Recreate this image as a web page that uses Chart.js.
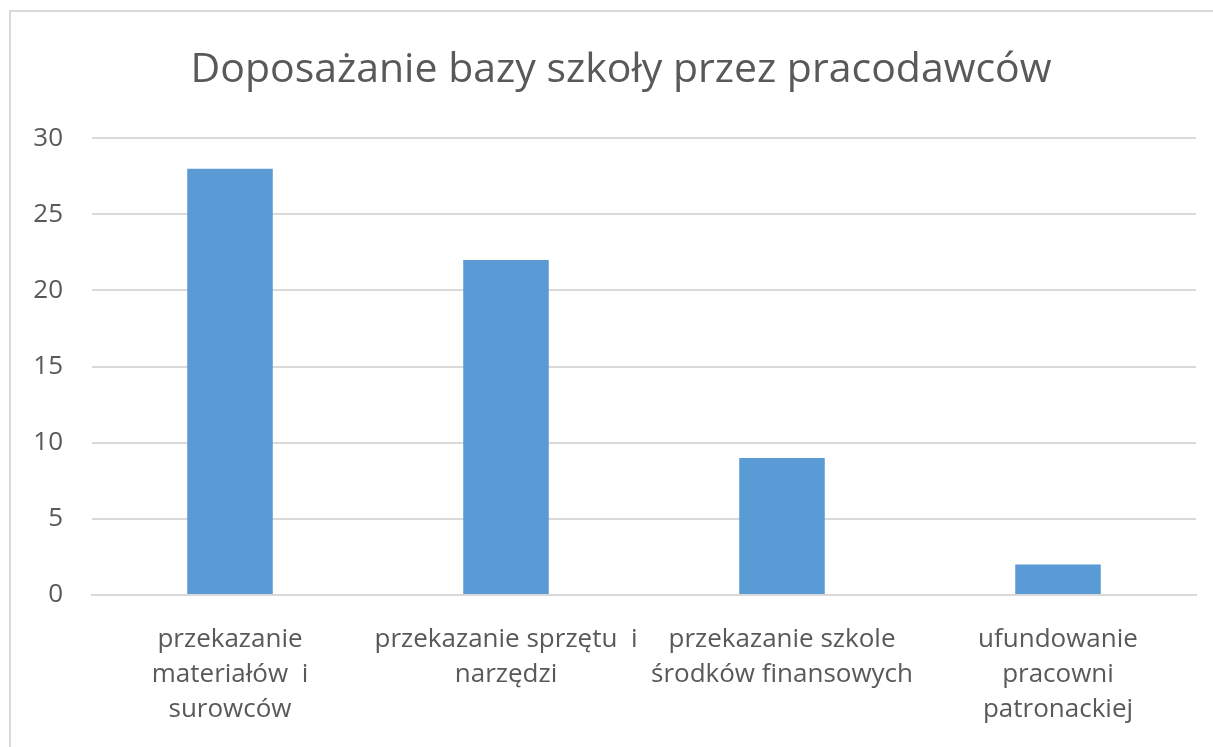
<!DOCTYPE html>
<html lang="pl">
<head>
<meta charset="UTF-8">
<script src="https://cdn.jsdelivr.net/npm/chart.js"></script>
<title>Doposażanie bazy szkoły</title>
<style>
    body { margin: 0; background: #fff; overflow: hidden; }
    #wrap { position: relative; width: 1213px; height: 747px; }
    #frame { position: absolute; left: 9px; top: 10px; width: 1300px; height: 800px; border: 2px solid #d9d9d9; box-sizing: border-box; }
    canvas { position: absolute; left: 0; top: 0; }
</style>
</head>
<body>
<div id="wrap">
    <div id="frame"></div>
    <canvas id="myChart" width="1213" height="747"></canvas>
</div>
<script>
    const titleText = 'Doposażanie bazy szkoły przez pracodawców';

    const categories = [
        ['przekazanie', 'materiałów  i', 'surowców'],
        ['przekazanie sprzętu  i', 'narzędzi'],
        ['przekazanie szkole', 'środków finansowych'],
        ['ufundowanie', 'pracowni', 'patronackiej'],
    ];

    const values = [28, 22, 9, 2];

    const yTicks = [0, 5, 10, 15, 20, 25, 30];

    const grey = '#595959';
    const fontFamily = '"Open Sans", "Noto Sans", sans-serif';

    // Excel centres the title over the frame, not over the whole canvas
    const titleShift = {
        id: 'title_shift',
        afterLayout: (chart) => {
            if (chart.titleBlock) chart.titleBlock.left = 46;
        }
    };

    const config = {
        type: 'bar',
        data: {
            labels: categories,
            datasets: [{
                label: 'Liczba',
                data: values,
                backgroundColor: '#5b9bd5',
                borderWidth: 0,
                barPercentage: 1,
                categoryPercentage: 0.31,
            }]
        },
        options: {
            responsive: false,
            animation: false,
            layout: {
                padding: { left: 0, right: 17, top: 21, bottom: 0 }
            },
            plugins: {
                legend: { display: false },
                tooltip: { enabled: false },
                title: {
                    display: true,
                    text: titleText,
                    color: grey,
                    font: { family: fontFamily, size: 41, weight: 'normal' },
                    padding: { top: 25, bottom: 43 }
                }
            },
            scales: {
                x: {
                    afterFit: (scale) => { scale.height = 152; },
                    grid: { display: false },
                    border: { display: true, color: '#d9d9d9', width: 2 },
                    ticks: {
                        color: grey,
                        font: { family: fontFamily, size: 26, lineHeight: 1.35 },
                        maxRotation: 0,
                        autoSkip: false,
                        padding: 19
                    }
                },
                y: {
                    min: 0,
                    max: 30,
                    afterFit: (scale) => { scale.width = 92; },
                    afterBuildTicks: (scale) => {
                        scale.ticks = yTicks.map(v => ({ value: v }));
                    },
                    border: { display: false },
                    grid: { color: '#d9d9d9', lineWidth: 2, drawTicks: false },
                    ticks: {
                        color: grey,
                        font: { family: fontFamily, size: 26 },
                        padding: 29
                    }
                }
            }
        },
        plugins: [titleShift]
    };

    const myChart = new Chart(document.getElementById('myChart'), config);
</script>
</body>
</html>
